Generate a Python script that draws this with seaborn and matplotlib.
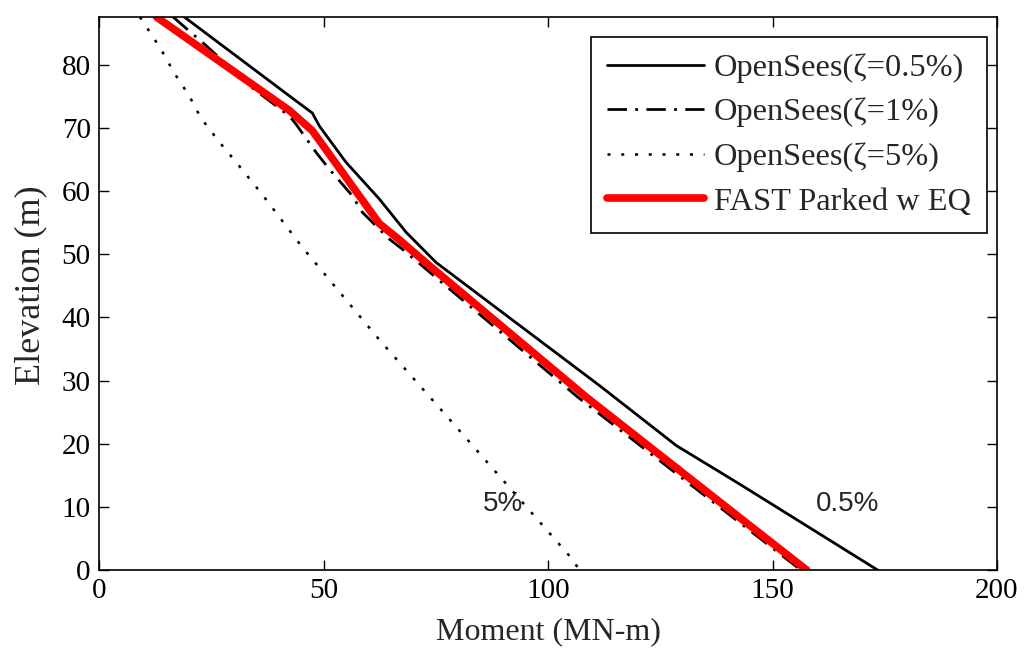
import numpy as np
import pandas as pd
import matplotlib
matplotlib.use('Agg')
import matplotlib.pyplot as plt
import seaborn as sns

# moment (MN-m) vs elevation (m)
elev_05 = [87.6, 74.3, 72.4, 70.3, 64.6, 58.8, 53.5, 48.7, 29.2, 19.7, 13.6, 0.0]
mom_05 = [19.0, 43.9, 47.5, 49.1, 55.0, 62.4, 68.4, 75.1, 111.5, 128.6, 142.7, 173.4]

elev_1 = [87.6, 83.1, 76.4, 72.8, 71.4, 70.6, 66.2, 63.5, 59.3, 56.7, 52.4, 50.8, 27.4, 0.0]
mom_1 = [16.5, 23.8, 34.1, 40.8, 43.0, 43.9, 48.3, 51.3, 56.4, 58.6, 64.7, 67.6, 106.6, 156.3]

elev_5 = [87.6, 86.2, 82.5, 78.8, 75.1, 71.6, 67.8, 64.2, 60.5, 58.7, 51.1, 36.5, 23.6, 1.9, 0.0]
mom_5 = [9.1, 10.4, 13.8, 16.7, 20.1, 22.7, 26.8, 31.0, 35.2, 37.2, 45.3, 62.4, 78.4, 105.2, 107.0]

elev_fast = [87.6, 72.8, 69.6, 62.2, 54.9, 52.3, 48.2, 27.4, 8.3, 0.0]
mom_fast = [12.8, 42.4, 47.5, 55.0, 62.4, 66.9, 73.6, 108.5, 142.7, 157.6]

labels = ['OpenSees(\u03b6=0.5%)', 'OpenSees(\u03b6=1%)', 'OpenSees(\u03b6=5%)', 'FAST Parked w EQ']

sns.set_style('ticks')
plt.rcParams['font.family'] = ['Liberation Serif', 'DejaVu Serif']

fig = plt.figure(figsize=(10.25, 6.53), dpi=100)
ax = fig.add_axes([99 / 1025, 83 / 653, 898 / 1025, 553 / 653])

d05 = pd.DataFrame({'m': mom_05, 'z': elev_05})
d1 = pd.DataFrame({'m': mom_1, 'z': elev_1})
d5 = pd.DataFrame({'m': mom_5, 'z': elev_5})
dfast = pd.DataFrame({'m': mom_fast, 'z': elev_fast})

sns.lineplot(data=d05, x='m', y='z', sort=False, estimator=None, ax=ax,
             color='black', lw=2.0, label=labels[0])
sns.lineplot(data=d1, x='m', y='z', sort=False, estimator=None, ax=ax,
             color='black', lw=2.0, linestyle=(0, (7, 3, 1, 3)), label=labels[1])
sns.lineplot(data=d5, x='m', y='z', sort=False, estimator=None, ax=ax,
             color='black', lw=1.8, linestyle=(0, (1.2, 4.3)), label=labels[2])
sns.lineplot(data=dfast, x='m', y='z', sort=False, estimator=None, ax=ax,
             color='#ff0000', lw=5.5, label=labels[3])

# curve tags
ax.text(159.6, 10.4, '0.5%', fontsize=20, family='Liberation Sans', va='center', ha='left')
ax.text(85.4, 10.4, '5%', fontsize=20, family='Liberation Sans', va='center', ha='left')

ax.set_xlim(0, 200)
ax.set_ylim(0, 87.6)
ax.set_xticks([0, 50, 100, 150, 200])
ax.set_yticks(np.arange(0, 81, 10))
ax.tick_params(direction='in', length=7, width=1, top=True, right=True,
               labelsize=21, pad=6, colors='black')
for s in ax.spines.values():
    s.set_visible(True)
    s.set_linewidth(1.2)
    s.set_color('black')

ax.set_xlabel('Moment (MN-m)', fontsize=23, labelpad=9)
ax.set_ylabel('Elevation (m)', fontsize=26)
ax.yaxis.set_label_coords(-0.058, 0.515)

leg = ax.legend(loc='upper right', bbox_to_anchor=((987 - 99) / 898, (570 - 37) / 553),
                borderaxespad=0, fontsize=23.3, frameon=True, fancybox=False,
                edgecolor='black', framealpha=1, handlelength=3.0,
                handletextpad=0.3, labelspacing=0.46, borderpad=0.5)
leg.get_frame().set_linewidth(1.2)

plt.savefig('out.png', dpi=100)
